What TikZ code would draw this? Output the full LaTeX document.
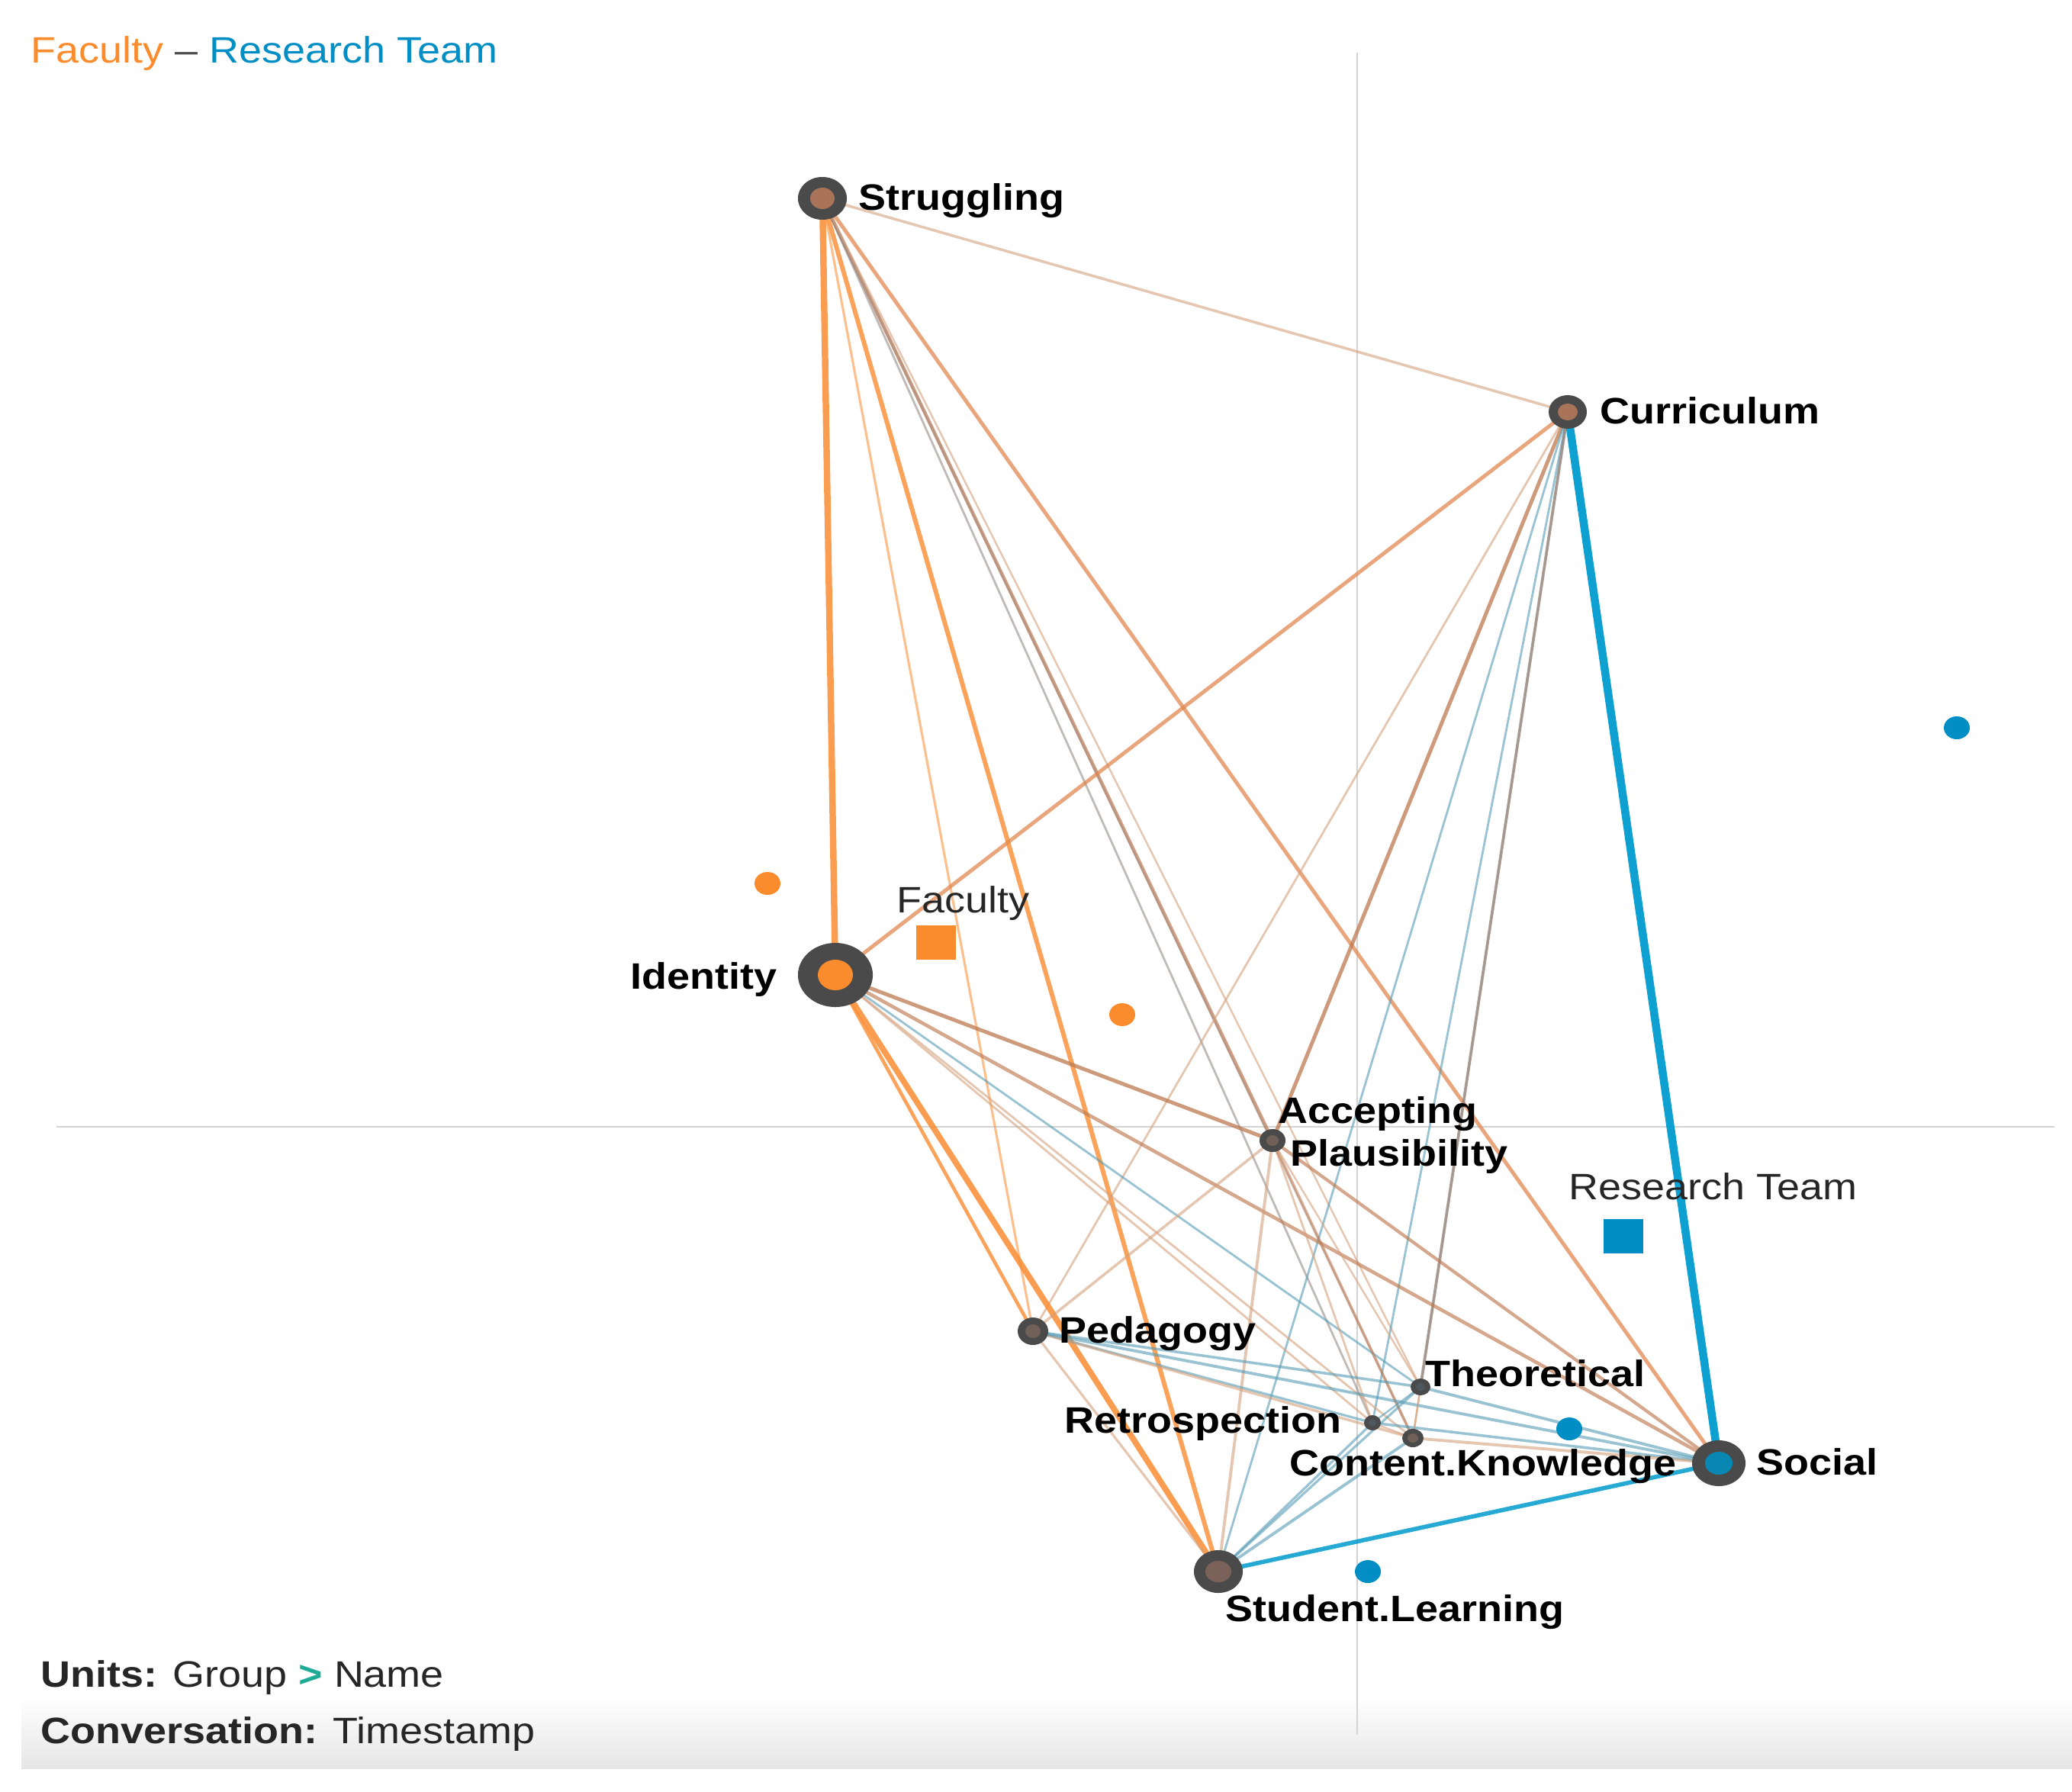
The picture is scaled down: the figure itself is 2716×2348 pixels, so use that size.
\documentclass[tikz,border=0pt]{standalone}
\usepackage{fontspec}
\setmainfont{Liberation Sans}[FakeStretch=1.12]
\usetikzlibrary{shapes.geometric,backgrounds}
\definecolor{cOr}{RGB}{250,140,50}
\definecolor{cOb}{RGB}{225,135,80}
\definecolor{cBr}{RGB}{190,120,80}
\definecolor{cTan}{RGB}{212,160,125}
\definecolor{cGr}{RGB}{140,130,125}
\definecolor{cBl}{RGB}{0,155,205}
\definecolor{cBg}{RGB}{85,155,180}
\definecolor{cRing}{RGB}{74,74,74}
\definecolor{cInS}{RGB}{168,115,88}
\definecolor{cInG}{RGB}{112,96,88}
\definecolor{cInB}{RGB}{78,88,96}
\definecolor{cInL}{RGB}{122,98,90}
\definecolor{cSoc}{RGB}{8,135,178}
\definecolor{cFac}{RGB}{250,140,45}
\definecolor{cRes}{RGB}{0,142,196}
\definecolor{cTeal}{RGB}{30,172,150}
\definecolor{cAxis}{RGB}{212,212,212}
\begin{document}
\begin{tikzpicture}[x=0.01cm,y=-0.01cm,
  font=\fontsize{13.7}{16}\selectfont,
  ring/.style 2 args={ellipse, fill=cRing, draw=none, inner sep=0pt, minimum width=#1*0.02cm, minimum height=#2*0.02cm},
  core/.style n args={3}{ellipse, fill=#3, draw=none, inner sep=0pt, minimum width=#1*0.02cm, minimum height=#2*0.02cm},
  dot/.style={ellipse, fill=#1, draw=none, inner sep=0pt, minimum width=0.34cm, minimum height=0.30cm},
  mean/.style={rectangle, fill=#1, draw=none, inner sep=0pt, minimum width=0.52cm, minimum height=0.45cm},
  lbl/.style={inner sep=0pt, font=\fontsize{13.7}{16}\selectfont\bfseries, text=black},
  grp/.style={inner sep=0pt, text=black!85},
  axisline/.style={draw=cAxis, line width=0.6pt},
  eOr/.style={draw=cOr, opacity=0.8, line cap=round},
  eOb/.style={draw=cOb, opacity=0.75, line cap=round},
  eBr/.style={draw=cBr, opacity=0.75, line cap=round},
  eTan/.style={draw=cTan, opacity=0.6, line cap=round},
  eGr/.style={draw=cGr, opacity=0.55, line cap=round},
  eBl/.style={draw=cBl, opacity=0.95, line cap=round},
  eBg/.style={draw=cBg, opacity=0.6, line cap=round}]
\useasboundingbox (0,0) rectangle (2716,2348);

% ---------- nodes ----------
\node[ring={32}{28}] (S) at (1078,260) {};
\node[core={16}{14}{cInS}] (S-in) at (S) {};
\node[ring={25}{22}] (C) at (2055,540) {};
\node[core={13}{11}{cInS}] (C-in) at (C) {};
\node[ring={49}{42}] (I) at (1095,1278) {};
\node[core={23}{20}{cFac}] (I-in) at (I) {};
\node[ring={17}{15}] (A) at (1668,1495) {};
\node[core={8}{7}{cInG}] (A-in) at (A) {};
\node[ring={20}{18}] (P) at (1354,1745) {};
\node[core={10}{9}{cInG}] (P-in) at (P) {};
\node[ring={13}{11}] (T) at (1862,1818) {};
\node[core={6}{5}{cInB}] (T-in) at (T) {};
\node[ring={11}{10}] (R) at (1799,1865) {};
\node[core={5}{4.5}{cInB}] (R-in) at (R) {};
\node[ring={14}{12}] (K) at (1852,1885) {};
\node[core={7}{6}{cInG}] (K-in) at (K) {};
\node[ring={35}{30}] (So) at (2253,1918) {};
\node[core={18}{15}{cSoc}] (So-in) at (So) {};
\node[ring={32}{28}] (L) at (1597,2060) {};
\node[core={17}{14}{cInL}] (L-in) at (L) {};

% points and means
\node[dot=cFac] (fp1) at (1006,1158) {};
\node[dot=cFac] (fp2) at (1471,1330) {};
\node[dot=cRes] (rp1) at (2565,954) {};
\node[dot=cRes] (rp2) at (2057,1873) {};
\node[dot=cRes] (rp3) at (1793,2060) {};
\node[mean=cFac] (fm) at (1227,1235) {};
\node[mean=cRes] (rm) at (2128,1620) {};

% ---------- labels ----------
\node[lbl, anchor=base west] (S-l) at (1125,275) {Struggling};
\node[lbl, anchor=base west] (C-l) at (2097,555) {Curriculum};
\node[lbl, anchor=base east] (I-l) at (1019,1296) {Identity};
\node[lbl, anchor=base west] (A-l1) at (1675,1472) {Accepting};
\node[lbl, anchor=base west] (A-l2) at (1691,1528) {Plausibility};
\node[lbl, anchor=base west] (P-l) at (1388,1760) {Pedagogy};
\node[lbl, anchor=base west] (T-l) at (1868,1817) {Theoretical};
\node[lbl, anchor=base east] (R-l) at (1759,1878) {Retrospection};
\node[lbl, anchor=base west] (K-l) at (1690,1934) {Content.Knowledge};
\node[lbl, anchor=base west] (So-l) at (2302,1933) {Social};
\node[lbl, anchor=base west] (L-l) at (1606,2125) {Student.Learning};
\node[grp, anchor=base west] (fm-l) at (1175,1196) {Faculty};
\node[grp, anchor=base west] (rm-l) at (2056,1572) {Research Team};

\node[inner sep=0pt, anchor=base west] (title) at (40,82)
  {\textcolor{cFac}{Faculty} \textcolor{black!70}{–} \textcolor{cRes}{Research Team}};
\node[inner sep=0pt, anchor=base west, text=black!85] (units) at (53,2211)
  {\textbf{Units:} Group \textcolor{cTeal}{\textbf{>}} Name};
\node[inner sep=0pt, anchor=base west, text=black!85] (conv) at (53,2285)
  {\textbf{Conversation:} Timestamp};

% ---------- background: band, axes, edges ----------
\begin{pgfonlayer}{background}
\shade[top color=white, bottom color=black!10] (28,2225) rectangle (2716,2318);
\draw[axisline] (1779,69) -- (1779,2274);
\draw[axisline] (74,1477) -- (2693,1477);

% Struggling
\draw[eTan, line width=1.0pt] (S.center) -- (C.center);
\draw[eOr, line width=0.9pt, opacity=0.55] (S.center) -- (P.center);
\draw[eOr, line width=1.7pt] (S.center) -- (L.center);
\draw[eBr, line width=1.3pt, opacity=0.7] (S.center) -- (A.center);
\draw[eGr, line width=0.8pt] (S.center) -- (R.center);
\draw[eGr, line width=0.8pt, opacity=0.35] (S.center) -- (K.center);
\draw[eTan, line width=0.7pt] (S.center) -- (T.center);
\draw[eOb, line width=1.4pt] (S.center) -- (So.center);
\draw[eOr, line width=2.4pt, opacity=0.85] (S.center) -- (I.center);
% Curriculum
\draw[eOb, line width=1.4pt] (C.center) -- (I.center);
\draw[eTan, line width=0.8pt] (C.center) -- (P.center);
\draw[eBr, line width=1.4pt] (C.center) -- (A.center);
\draw[eTan, line width=0.7pt] (C.center) -- (K.center);
\draw[eBg, line width=0.8pt] (C.center) -- (L.center);
\draw[eBg, line width=0.8pt] (C.center) -- (R.center);
\draw[eGr, line width=1.1pt, opacity=0.7] (C.center) -- (T.center);
% Identity
\draw[eOr, line width=1.3pt] (I.center) -- (P.center);
\draw[eBr, line width=1.4pt] (I.center) -- (A.center);
\draw[eBr, line width=1.3pt, opacity=0.65] (I.center) -- (So.center);
\draw[eBg, line width=0.8pt] (I.center) -- (T.center);
\draw[eTan, line width=0.8pt] (I.center) -- (R.center);
\draw[eTan, line width=0.8pt] (I.center) -- (K.center);
\draw[eOr, line width=2.2pt, opacity=0.85] (I.center) -- (L.center);
% Accepting Plausibility
\draw[eTan, line width=1.0pt] (A.center) -- (P.center);
\draw[eTan, line width=1.1pt] (A.center) -- (L.center);
\draw[eTan, line width=0.8pt] (A.center) -- (R.center);
\draw[eBr, line width=1.0pt, opacity=0.6] (A.center) -- (K.center);
\draw[eTan, line width=0.7pt] (A.center) -- (T.center);
\draw[eBr, line width=1.2pt, opacity=0.65] (A.center) -- (So.center);
% Pedagogy
\draw[eTan, line width=0.9pt] (P.center) -- (L.center);
\draw[eBg, line width=1.0pt] (P.center) -- (T.center);
\draw[eBg, line width=0.9pt] (P.center) -- (R.center);
\draw[eTan, line width=1.0pt] (P.center) -- (K.center);
\draw[eBg, line width=1.1pt] (P.center) -- (So.center);
% Student.Learning
\draw[eBg, line width=0.9pt] (L.center) -- (T.center);
\draw[eBg, line width=0.9pt] (L.center) -- (R.center);
\draw[eBg, line width=1.1pt] (L.center) -- (K.center);
\draw[eBl, line width=1.6pt, opacity=0.85] (L.center) -- (So.center);
% Social and the small cluster
\draw[eBg, line width=1.1pt] (So.center) -- (T.center);
\draw[eBg, line width=1.0pt] (So.center) -- (R.center);
\draw[eTan, line width=1.1pt] (So.center) -- (K.center);
\draw[eBg, line width=0.7pt] (T.center) -- (R.center);
\draw[eTan, line width=0.7pt] (T.center) -- (K.center);
\draw[eTan, line width=0.7pt] (R.center) -- (K.center);
\draw[eBl, line width=3.0pt] (C.center) -- (So.center);
\end{pgfonlayer}
\end{tikzpicture}
\end{document}
